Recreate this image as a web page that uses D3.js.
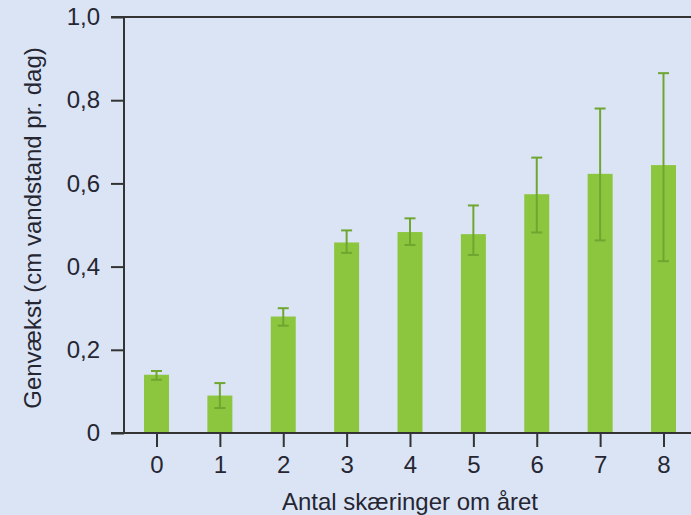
<!DOCTYPE html>
<html>
<head>
<meta charset="utf-8">
<script src="https://cdn.jsdelivr.net/npm/d3@7"></script>
<style>
  body { margin: 0; background: #dbe4f4; }
  svg { display: block; font-family: "Liberation Sans", Arial, sans-serif; }
</style>
</head>
<body>
<svg width="691" height="515"></svg>
<script>
// data
const categories = ["0", "1", "2", "3", "4", "5", "6", "7", "8"];
const values = [0.14, 0.09, 0.28, 0.458, 0.483, 0.478, 0.574, 0.623, 0.644];
const errLow = [0.128, 0.06, 0.258, 0.433, 0.452, 0.428, 0.482, 0.463, 0.413];
const errHigh = [0.149, 0.12, 0.30, 0.487, 0.516, 0.547, 0.662, 0.78, 0.865];
const yTicks = [0, 0.2, 0.4, 0.6, 0.8, 1.0];

const svg = d3.select("svg");
const axisColor = "#333333";
const textColor = "#262633";

const yScale = d3.scaleLinear().domain([0, 1]).range([433, 17]);
const xScale = d3.scalePoint().domain(categories).range([156.5, 663.5]);
const barWidth = 25;

// background
svg.append("rect").attr("width", 691).attr("height", 515).attr("fill", "#dbe4f4");

// bars
svg.selectAll("rect.bar")
  .data(categories)
  .enter()
  .append("rect")
    .attr("class", "bar")
    .attr("x", d => xScale(d) - barWidth / 2)
    .attr("width", barWidth)
    .attr("y", (d, i) => yScale(values[i]))
    .attr("height", (d, i) => yScale(0) - yScale(values[i]))
    .attr("fill", "#8cc63e");

// error bars
const err = svg.append("g")
  .attr("stroke", "#6ea630")
  .attr("stroke-width", 2);

categories.forEach((c, i) => {
  const cx = xScale(c);
  err.append("line")
    .attr("x1", cx).attr("x2", cx)
    .attr("y1", yScale(errLow[i])).attr("y2", yScale(errHigh[i]));
  [errLow[i], errHigh[i]].forEach(v => {
    err.append("line")
      .attr("x1", cx - 5.5).attr("x2", cx + 5.5)
      .attr("y1", yScale(v)).attr("y2", yScale(v));
  });
});

// y axis
const yAxis = svg.append("g")
  .attr("transform", "translate(124, 0)")
  .call(d3.axisLeft(yScale)
    .tickValues(yTicks)
    .tickSize(13)
    .tickPadding(11)
    .tickFormat(d => d === 0 ? "0" : d3.format(".1f")(d).replace(".", ",")));
yAxis.select(".domain").attr("stroke", axisColor).attr("stroke-width", 2).attr("d", "M0,17V433");
yAxis.selectAll(".tick line").attr("stroke", axisColor).attr("stroke-width", 2);
yAxis.selectAll(".tick text").attr("fill", textColor).style("font-size", "24px");

// top frame line
svg.append("line")
  .attr("x1", 111).attr("x2", 691)
  .attr("y1", yScale(1)).attr("y2", yScale(1))
  .attr("stroke", axisColor).attr("stroke-width", 2);

// x axis
const xAxis = svg.append("g")
  .attr("transform", "translate(0, 433)")
  .call(d3.axisBottom(xScale).tickSize(14).tickPadding(9));
xAxis.select(".domain").attr("stroke", axisColor).attr("stroke-width", 2).attr("d", "M111,0H691");
xAxis.selectAll(".tick line").attr("stroke", axisColor).attr("stroke-width", 2);
xAxis.selectAll(".tick text").attr("fill", textColor).style("font-size", "24px");

// axis titles
svg.append("text")
  .attr("x", 410).attr("y", 510)
  .attr("text-anchor", "middle")
  .attr("fill", textColor)
  .style("font-size", "24px")
  .text("Antal skæringer om året");

svg.append("text")
  .attr("transform", "translate(41, 228) rotate(-90)")
  .attr("text-anchor", "middle")
  .attr("fill", textColor)
  .style("font-size", "24px")
  .text("Genvækst (cm vandstand pr. dag)");
</script>
</body>
</html>
